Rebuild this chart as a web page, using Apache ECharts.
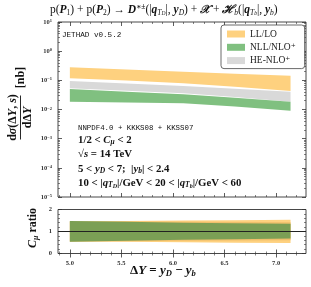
<!DOCTYPE html>
<html><head><meta charset="utf-8">
<script src="https://cdn.jsdelivr.net/npm/echarts@6/dist/echarts.min.js"></script>
<style>html,body{margin:0;padding:0;background:#fff}#c{width:311px;height:287px}</style>
</head><body><div id="c"></div>
<script>
// ---- data ----
const deltaY = [5.0, 5.55, 6.1, 6.6, 7.14];
const llLoLow  = [0.117, 0.098, 0.079, 0.060, 0.043];
const llLoHigh = [0.279, 0.234, 0.197, 0.168, 0.144];
const heNloLow  = [0.0532, 0.0440, 0.0358, 0.0267, 0.0185];
const heNloHigh = [0.0946, 0.0776, 0.0638, 0.0512, 0.0406];
const nllLow  = [0.0185, 0.0175, 0.0163, 0.0126, 0.0091];
const nllHigh = [0.0504, 0.0410, 0.0331, 0.0253, 0.0185];
const ratioLlLow  = [0.55, 0.53, 0.51, 0.49, 0.48];
const ratioLlHigh = [1.46, 1.48, 1.50, 1.51, 1.53];
const ratioHeLow  = [0.55, 0.56, 0.58, 0.59, 0.60];
const ratioHeHigh = [1.46, 1.45, 1.44, 1.43, 1.42];
const ratioNllLow  = [0.53, 0.58, 0.62, 0.65, 0.68];
const ratioNllHigh = [1.48, 1.44, 1.40, 1.37, 1.35];
const xTicks = [5.0, 5.5, 6.0, 6.5, 7.0];
const xMinorTicks = [4.9,5.1,5.2,5.3,5.4,5.6,5.7,5.8,5.9,6.1,6.2,6.3,6.4,6.6,6.7,6.8,6.9,7.1,7.2];
const yTopTicks = [1e-5, 1e-4, 1e-3, 1e-2, 1e-1, 1, 10];
const yRatioTicks = [0, 1, 2];
const xRange = [4.885, 7.29];
const legendNames = ['LL/LO', 'NLL/NLO⁺', 'HE-NLO⁺'];

// ---- chart ----
const chart = echarts.init(document.getElementById('c'), null, {renderer: 'canvas'});
const SERIF = '"Liberation Serif","DejaVu Serif",serif';
const frame = '#333';

const yTopMinor = [];
for (let e = -5; e < 1; e++) for (let m = 2; m <= 9; m++) yTopMinor.push(m * Math.pow(10, e));
const yRatioMinor = [];
for (let v = 0.2; v < 2; v += 0.2) { if (Math.abs(v - 1) > 1e-6) yRatioMinor.push(+v.toFixed(1)); }

function xAxes(gridIndex, showLabels) {
  const base = {type: 'value', gridIndex, min: xRange[0], max: xRange[1],
    axisLine: {show: false}, splitLine: {show: false}};
  return [
    Object.assign({}, base, {position: 'bottom',
      axisTick: {inside: true, length: 4, customValues: xTicks, lineStyle: {color: frame, width: 0.8}},
      axisLabel: showLabels ? {customValues: xTicks, margin: 6, fontSize: 6.5, fontWeight: 'bold', fontFamily: SERIF, color: '#333',
        formatter: v => v.toFixed(1)} : {show: false}}),
    Object.assign({}, base, {position: 'bottom',
      axisTick: {inside: true, length: 2, customValues: xMinorTicks, lineStyle: {color: frame, width: 0.6}},
      axisLabel: {show: false}}),
    Object.assign({}, base, {position: 'top',
      axisTick: {inside: true, length: 4, customValues: xTicks, lineStyle: {color: frame, width: 0.8}},
      axisLabel: {show: false}}),
    Object.assign({}, base, {position: 'top',
      axisTick: {inside: true, length: 2, customValues: xMinorTicks, lineStyle: {color: frame, width: 0.6}},
      axisLabel: {show: false}})
  ];
}
function yAxes(gridIndex, type, min, max, major, minor, labelFmt) {
  const base = {type, gridIndex, min, max, axisLine: {show: false}, splitLine: {show: false}};
  if (type === 'log') base.logBase = 10;
  return [
    Object.assign({}, base, {position: 'left',
      axisTick: {inside: true, length: 4, customValues: major, lineStyle: {color: frame, width: 0.8}},
      axisLabel: {customValues: major, margin: 6, fontSize: 6.5, fontWeight: 'bold', fontFamily: SERIF, color: '#333',
        formatter: labelFmt, rich: {sup: {fontSize: 4.5, verticalAlign: 'top', fontFamily: SERIF, fontWeight: 'bold', color: '#333'}}}}),
    Object.assign({}, base, {position: 'left',
      axisTick: {inside: true, length: 2, customValues: minor, lineStyle: {color: frame, width: 0.6}},
      axisLabel: {show: false}}),
    Object.assign({}, base, {position: 'right',
      axisTick: {inside: true, length: 4, customValues: major, lineStyle: {color: frame, width: 0.8}},
      axisLabel: {show: false}}),
    Object.assign({}, base, {position: 'right',
      axisTick: {inside: true, length: 2, customValues: minor, lineStyle: {color: frame, width: 0.6}},
      axisLabel: {show: false}})
  ];
}

function band(name, lo, hi, color, opacity, xi, yi, z) {
  return {
    type: 'custom', name, xAxisIndex: xi, yAxisIndex: yi, z,
    itemStyle: {color}, silent: true, clip: true,
    data: deltaY.map((x, i) => [x, lo[i], hi[i]]),
    encode: {x: 0, y: [1, 2]},
    renderItem(params, api) {
      if (params.dataIndex !== 0) return null;
      const up = deltaY.map((x, i) => api.coord([x, hi[i]]));
      const dn = deltaY.map((x, i) => api.coord([x, lo[i]])).reverse();
      return {type: 'polygon', shape: {points: up.concat(dn)}, style: {fill: color, opacity}};
    }
  };
}

const ORANGE = '#fed17f', GRAY = '#d9d9d9', GREEN = '#80c080';

const AF = 10.8;
const rich = {
  i: {fontStyle: 'italic', fontWeight: 'bold', fontFamily: SERIF, fontSize: AF},
  sb: {fontStyle: 'italic', fontWeight: 'bold', fontFamily: SERIF, fontSize: 7.5, verticalAlign: 'bottom'},
  sbn: {fontWeight: 'bold', fontFamily: SERIF, fontSize: 7.5, verticalAlign: 'bottom'},
  ssb: {fontStyle: 'italic', fontWeight: 'bold', fontFamily: SERIF, fontSize: 6, verticalAlign: 'bottom'}
};
function ann(x, y, text, extra) {
  return {type: 'text', left: x, top: y, z: 50,
    style: Object.assign({text, fontFamily: SERIF, fontWeight: 'bold', fontSize: AF, fill: '#111', lineHeight: 12, rich}, extra || {})};
}
const titleRich = {
  i: {fontStyle: 'italic', fontWeight: 'bold', fontFamily: SERIF, fontSize: 11.5},
  sb: {fontStyle: 'italic', fontFamily: SERIF, fontSize: 7.5, verticalAlign: 'bottom'},
  sbn: {fontFamily: SERIF, fontSize: 7.5, verticalAlign: 'bottom'},
  ssb: {fontStyle: 'italic', fontFamily: SERIF, fontSize: 5.5, verticalAlign: 'bottom'},
  sp: {fontWeight: 'bold', fontFamily: SERIF, fontSize: 7.5, verticalAlign: 'top'}
};

const option = {
  animation: false,
  backgroundColor: '#fff',
  grid: [
    {left: 58, top: 22, width: 248, height: 175, show: true, borderColor: frame, borderWidth: 0.9, backgroundColor: 'transparent'},
    {left: 58, top: 209.5, width: 248, height: 44, show: true, borderColor: frame, borderWidth: 0.9, backgroundColor: 'transparent'}
  ],
  xAxis: xAxes(0, false).concat(xAxes(1, true)),
  yAxis: yAxes(0, 'log', 1e-5, 10, yTopTicks, yTopMinor, v => {
      const e = Math.round(Math.log10(v));
      return '10{sup|' + (e < 0 ? '−' + (-e) : e) + '}';
    }).concat(yAxes(1, 'value', 0, 2, yRatioTicks, yRatioMinor, v => String(Math.round(v)))),
  legend: {
    data: legendNames, orient: 'vertical', left: 221, top: 25,
    itemWidth: 18, itemHeight: 7, itemGap: 3.3, icon: 'rect',
    padding: [4, 9, 3, 6], borderColor: '#444', borderWidth: 0.8, borderRadius: 3, backgroundColor: '#fff',
    textStyle: {fontFamily: SERIF, fontSize: 9.5, color: '#222', lineHeight: 10},
    selectedMode: false, z: 40
  },
  series: [
    band('LL/LO', llLoLow, llLoHigh, ORANGE, 1, 0, 0, 2),
    band('HE-NLO⁺', heNloLow, heNloHigh, GRAY, 1, 0, 0, 3),
    band('NLL/NLO⁺', nllLow, nllHigh, GREEN, 1, 0, 0, 4),
    band('r-LL', ratioLlLow, ratioLlHigh, ORANGE, 1, 4, 4, 2),
    band('r-HE', ratioHeLow, ratioHeHigh, '#f0bf6c', 1, 4, 4, 3),
    band('r-NLL', ratioNllLow, ratioNllHigh, '#7b9f55', 1, 4, 4, 4),
    {type: 'line', name: 'unit', xAxisIndex: 4, yAxisIndex: 4, z: 10, silent: true,
      symbol: 'none', data: [[xRange[0], 1], [xRange[1], 1]], lineStyle: {color: '#222', width: 1}}
  ],
  graphic: [
    {type: 'text', left: 50, top: 3, z: 50,
      style: {text: 'p({i|P}{sbn|1}) + p({i|P}{sbn|2}) → {i|D}{sp|∗±}(|{i|q}{sb|T}{ssb|D}|, {i|y}{sb|D}) + {i|𝒳} + {i|ℋ}{sb|b}(|{i|q}{sb|T}{ssb|b}|, {i|y}{sb|b})',
        fontFamily: SERIF, fontSize: 11.5, fill: '#111', lineHeight: 14, rich: titleRich}},
    ann(62, 29, 'JETHAD v0.5.2', {fontFamily: '"Liberation Mono","DejaVu Sans Mono",monospace', fontWeight: 'normal', fontSize: 7.6}),
    ann(78, 122, 'NNPDF4.0 + KKKS08 + KKSS07', {fontFamily: '"Liberation Mono","DejaVu Sans Mono",monospace', fontWeight: 'normal', fontSize: 7.4}),
    ann(78, 134, '1/2 < {i|C}{sb|μ} < 2'),
    ann(78, 148, '√{i|s} = 14 TeV'),
    ann(78, 163, '5 < {i|y}{sb|D} < 7;  |{i|y}{sb|b}| < 2.4'),
    ann(78, 177, '10 < |{i|q}{sb|T}{ssb|D}|/GeV < 20 < |{i|q}{sb|T}{ssb|b}|/GeV < 60'),
    // y-axis label (fraction)
    {type: 'group', x: 20.5, y: 117.5, rotation: Math.PI / 2, z: 50, children: [
      {type: 'text', x: 0, y: -7.5, style: {text: 'd{i|σ}(Δ{i|Y}, {i|s})', rich: {i: {fontStyle: 'italic', fontWeight: 'bold', fontFamily: SERIF, fontSize: 12}},
        fontFamily: SERIF, fontWeight: 'bold', fontSize: 12, fill: '#111', align: 'center', verticalAlign: 'middle'}},
      {type: 'line', shape: {x1: -22, y1: 0, x2: 22, y2: 0}, style: {stroke: '#111', lineWidth: 0.9}},
      {type: 'text', x: 0, y: 7.5, style: {text: 'dΔ{i|Y}', rich: {i: {fontStyle: 'italic', fontWeight: 'bold', fontFamily: SERIF, fontSize: 12}},
        fontFamily: SERIF, fontWeight: 'bold', fontSize: 12, fill: '#111', align: 'center', verticalAlign: 'middle'}},
      {type: 'text', x: 40, y: 0, style: {text: '[nb]', fontFamily: SERIF, fontWeight: 'bold', fontSize: 12, fill: '#111', align: 'center', verticalAlign: 'middle'}}
    ]},
    {type: 'group', x: 33, y: 228, rotation: Math.PI / 2, z: 50, children: [
      {type: 'text', x: 0, y: 0, style: {text: '{i|C}{sb|μ} ratio', rich: {
          i: {fontStyle: 'italic', fontWeight: 'bold', fontFamily: SERIF, fontSize: 12},
          sb: {fontStyle: 'italic', fontWeight: 'bold', fontFamily: SERIF, fontSize: 8, verticalAlign: 'bottom'}},
        fontFamily: SERIF, fontWeight: 'bold', fontSize: 12, lineHeight: 14, fill: '#111', align: 'center', verticalAlign: 'middle'}}
    ]},
    {type: 'text', left: 130, top: 263, z: 50,
      style: {text: 'Δ{i|Y} = {i|y}{sb|D} − {i|y}{sb|b}', fontFamily: SERIF, fontWeight: 'bold', fontSize: 13, fill: '#111', lineHeight: 15,
        rich: {i: {fontStyle: 'italic', fontWeight: 'bold', fontFamily: SERIF, fontSize: 13},
               sb: {fontStyle: 'italic', fontWeight: 'bold', fontFamily: SERIF, fontSize: 8.5, verticalAlign: 'bottom'}}}}
  ]
};
chart.setOption(option);
</script></body></html>
